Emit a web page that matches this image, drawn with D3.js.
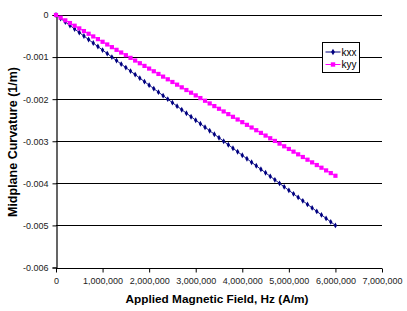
<!DOCTYPE html>
<html>
<head>
<meta charset="utf-8">
<script src="https://cdn.jsdelivr.net/npm/d3@7"></script>
<style>
  body { margin: 0; background: #fff; }
  svg { display: block; font-family: "Liberation Sans", Arial, sans-serif; }
</style>
</head>
<body>
<div id="chart"></div>
<script>
// applied field Hz (A/m)
const field = [
  0, 100000, 200000, 300000, 400000, 500000, 600000, 700000, 800000, 900000,
  1000000, 1100000, 1200000, 1300000, 1400000, 1500000, 1600000, 1700000, 1800000, 1900000,
  2000000, 2100000, 2200000, 2300000, 2400000, 2500000, 2600000, 2700000, 2800000, 2900000,
  3000000, 3100000, 3200000, 3300000, 3400000, 3500000, 3600000, 3700000, 3800000, 3900000,
  4000000, 4100000, 4200000, 4300000, 4400000, 4500000, 4600000, 4700000, 4800000, 4900000,
  5000000, 5100000, 5200000, 5300000, 5400000, 5500000, 5600000, 5700000, 5800000, 5900000,
  6000000
];
const kxx = [
  0, -0.0000833, -0.0001667, -0.00025, -0.0003333, -0.0004167, -0.0005, -0.0005833, -0.0006667, -0.00075,
  -0.0008333, -0.0009167, -0.001, -0.0010833, -0.0011667, -0.00125, -0.0013333, -0.0014167, -0.0015, -0.0015833,
  -0.0016667, -0.00175, -0.0018333, -0.0019167, -0.002, -0.0020833, -0.0021667, -0.00225, -0.0023333, -0.0024167,
  -0.0025, -0.0025833, -0.0026667, -0.00275, -0.0028333, -0.0029167, -0.003, -0.0030833, -0.0031667, -0.00325,
  -0.0033333, -0.0034167, -0.0035, -0.0035833, -0.0036667, -0.00375, -0.0038333, -0.0039167, -0.004, -0.0040833,
  -0.0041667, -0.00425, -0.0043333, -0.0044167, -0.0045, -0.0045833, -0.0046667, -0.00475, -0.0048333, -0.0049167,
  -0.005
];
const kyy = [
  0, -0.0000637, -0.0001273, -0.000191, -0.0002547, -0.0003183, -0.000382, -0.0004457, -0.0005093, -0.000573,
  -0.0006367, -0.0007003, -0.000764, -0.0008277, -0.0008913, -0.000955, -0.0010187, -0.0010823, -0.001146, -0.0012097,
  -0.0012733, -0.001337, -0.0014007, -0.0014643, -0.001528, -0.0015917, -0.0016553, -0.001719, -0.0017827, -0.0018463,
  -0.00191, -0.0019737, -0.0020373, -0.002101, -0.0021647, -0.0022283, -0.002292, -0.0023557, -0.0024193, -0.002483,
  -0.0025467, -0.0026103, -0.002674, -0.0027377, -0.0028013, -0.002865, -0.0029287, -0.0029923, -0.003056, -0.0031197,
  -0.0031833, -0.003247, -0.0033107, -0.0033743, -0.003438, -0.0035017, -0.0035653, -0.003629, -0.0036927, -0.0037563,
  -0.00382
];
const xTicks = [0, 1000000, 2000000, 3000000, 4000000, 5000000, 6000000, 7000000];
const yTicks = [0, -0.001, -0.002, -0.003, -0.004, -0.005, -0.006];
const seriesNames = ["kxx", "kyy"];

const W = 407, H = 311;
const margin = {top: 15, right: 25, bottom: 43.5, left: 56};

const svg = d3.select("#chart").append("svg")
  .attr("width", W).attr("height", H);

const x = d3.scaleLinear().domain([0, 7000000]).range([margin.left, W - margin.right]);
const y = d3.scaleLinear().domain([-0.006, 0]).range([H - margin.bottom, margin.top]);

// gridlines
svg.append("g").selectAll("line")
  .data(yTicks)
  .enter().append("line")
  .attr("x1", x(0)).attr("x2", x(7000000))
  .attr("y1", d => Math.round(y(d)) + 0.5).attr("y2", d => Math.round(y(d)) + 0.5)
  .style("stroke", "#000").style("stroke-width", 1.2);

const fmtX = d3.format(",");
const xAxis = svg.append("g")
  .attr("transform", "translate(0," + (Math.round(y(-0.006)) + 0.5) + ")")
  .call(d3.axisBottom(x).tickValues(xTicks).tickFormat(fmtX).tickSize(4).tickPadding(5));
xAxis.select(".domain").remove();
xAxis.selectAll("line").style("stroke", "#000");
xAxis.selectAll("text").style("font-size", "9px").style("fill", "#222")
  .style("font-family", "'Liberation Sans', Arial, sans-serif");

const yAxis = svg.append("g")
  .attr("transform", "translate(" + (Math.round(x(0)) + 0.5) + ",0)")
  .call(d3.axisLeft(y).tickValues(yTicks).tickFormat(d => d === 0 ? "0" : d3.format(".3f")(d).replace("−", "-")).tickSize(4).tickPadding(4));
yAxis.select(".domain").style("stroke", "#000").style("stroke-width", 1.2);
yAxis.selectAll("line").style("stroke", "#000");
yAxis.selectAll("text").style("font-size", "9px").style("fill", "#222")
  .style("font-family", "'Liberation Sans', Arial, sans-serif");

// series
const colors = {kxx: "#000080", kyy: "#ff00ff"};
const seriesData = {kxx: kxx, kyy: kyy};
const line = d3.line().x(d => x(d[0])).y(d => y(d[1]));

seriesNames.forEach(name => {
  const pts = field.map((f, i) => [f, seriesData[name][i]]);
  svg.append("path")
    .datum(pts)
    .attr("d", line)
    .style("fill", "none")
    .style("stroke", colors[name])
    .style("stroke-width", 0.9);
  if (name === "kxx") {
    svg.append("g").selectAll("path")
      .data(pts).enter().append("path")
      .attr("d", d3.symbol().type(d3.symbolDiamond).size(10))
      .attr("transform", d => "translate(" + x(d[0]) + "," + y(d[1]) + ")")
      .style("fill", colors[name]);
  } else {
    svg.append("g").selectAll("rect")
      .data(pts).enter().append("rect")
      .attr("x", d => x(d[0]) - 2.1).attr("y", d => y(d[1]) - 2.1)
      .attr("width", 4.2).attr("height", 4.2)
      .style("fill", colors[name]);
  }
});

// legend
const legend = svg.append("g").attr("transform", "translate(322.5,42.5)");
legend.append("rect")
  .attr("width", 37).attr("height", 30)
  .style("fill", "#fff").style("stroke", "#000").style("stroke-width", 1);
seriesNames.forEach((name, i) => {
  const ly = 9.5 + i * 12.5;
  legend.append("line")
    .attr("x1", 3).attr("x2", 18).attr("y1", ly).attr("y2", ly)
    .style("stroke", colors[name]).style("stroke-width", 1);
  if (name === "kxx") {
    legend.append("path")
      .attr("d", d3.symbol().type(d3.symbolDiamond).size(12))
      .attr("transform", "translate(10.5," + ly + ")")
      .style("fill", colors[name]);
  } else {
    legend.append("rect")
      .attr("x", 8.3).attr("y", ly - 2.2).attr("width", 4.4).attr("height", 4.4)
      .style("fill", colors[name]);
  }
  legend.append("text")
    .attr("x", 19).attr("y", ly + 3.5)
    .style("font-size", "10px").style("fill", "#000")
    .text(name);
});

// axis titles
svg.append("text")
  .attr("x", 217).attr("y", 303)
  .attr("text-anchor", "middle")
  .style("font-size", "11.8px").style("font-weight", "bold")
  .text("Applied Magnetic Field, Hz (A/m)");

svg.append("text")
  .attr("transform", "translate(17,142) rotate(-90)")
  .attr("text-anchor", "middle")
  .style("font-size", "12.5px").style("font-weight", "bold")
  .text("Midplane Curvature (1/m)");
</script>
</body>
</html>
